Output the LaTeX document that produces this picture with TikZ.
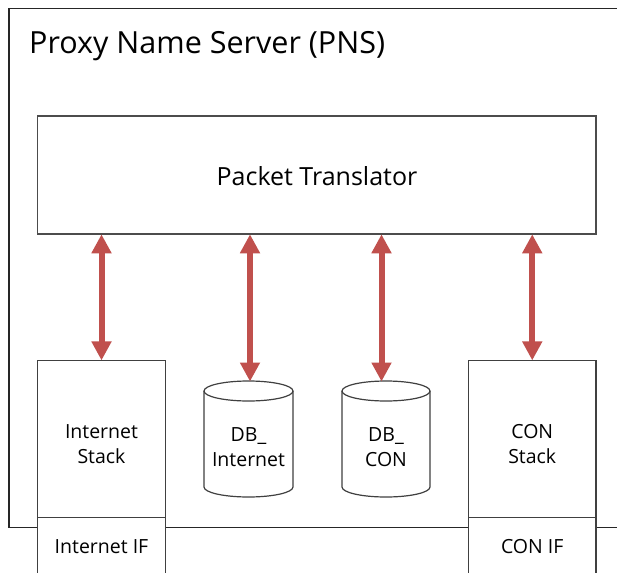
\documentclass[tikz,border=0pt]{standalone}
\usepackage{fontspec}
\setmainfont{Open Sans}
\usetikzlibrary{arrows.meta}
\definecolor{arrred}{RGB}{192,80,77}
\definecolor{boxline}{RGB}{64,64,64}
\tikzset{
  box/.style={draw=boxline, line width=1.2pt, fill=white, inner sep=0pt, minimum width=#1},
  lbl/.style={font=\fontsize{19.5}{25.5}\selectfont, align=center, inner sep=0pt},
  link/.style={draw=arrred, line width=6pt, {Triangle[width=19pt,length=19pt]}-{Triangle[width=19pt,length=19pt]}, shorten <=-0.5pt, shorten >=-0.5pt},
  dbshape/.style={draw=boxline, line width=1.2pt, fill=white}
}
\begin{document}
\begin{tikzpicture}[x=1pt,y=-1pt]
\path[use as bounding box, clip] (0,0) rectangle (617,572);
\fill[white] (0,0) rectangle (617,572);
% outer frame
\draw[line width=1.4pt, black!85] (9,8.5) rectangle (650,527.5);
\node[anchor=base west, inner sep=0pt, font=\fontsize{30.5}{36}\selectfont] (title) at (29,53.5) {Proxy Name Server (PNS)};
% packet translator
\node[box, minimum width=558.5pt, minimum height=118pt, draw=black!70, line width=1.6pt] (pt) at (316.75,175) {};
\node[anchor=base, inner sep=0pt, font=\fontsize{25}{30}\selectfont] (ptl) at (317,185) {Packet Translator};
% stacks
\node[box, minimum width=128pt, minimum height=157pt] (is) at (101.5,439) {};
\node[box, minimum width=128pt, minimum height=70pt] (iif) at (101.5,552.5) {};
\node[box, minimum width=127.5pt, minimum height=157pt] (cs) at (532.25,439) {};
\node[box, minimum width=127.5pt, minimum height=70pt] (cif) at (532.25,552.5) {};
\node[lbl] (isl) at (101.5,444) {Internet\\Stack};
\node[lbl, anchor=base] (iifl) at (101.5,553) {Internet IF};
\node[lbl] (csl) at (532.25,444) {CON\\Stack};
\node[lbl, anchor=base] (cifl) at (532.25,553) {CON IF};
% databases
\path[dbshape] (204,391) -- (204,487) arc[start angle=180, end angle=0, x radius=44.5, y radius=10] -- (293,391) arc[start angle=0, end angle=-180, x radius=44.5, y radius=10] -- cycle;
\draw[draw=boxline, line width=1.2pt] (204,391) arc[start angle=180, end angle=0, x radius=44.5, y radius=10];
\path[dbshape] (342,391) -- (342,487) arc[start angle=180, end angle=0, x radius=44, y radius=10] -- (430,391) arc[start angle=0, end angle=-180, x radius=44, y radius=10] -- cycle;
\draw[draw=boxline, line width=1.2pt] (342,391) arc[start angle=180, end angle=0, x radius=44, y radius=10];
\node[lbl] (db1) at (248.5,447) {DB\_\\Internet};
\node[lbl] (db2) at (386,447) {DB\_\\CON};
\coordinate (db1top) at (250,381);
\coordinate (db2top) at (381.5,381);
% links
\draw[link] (pt.south -| is.north) -- (is.north);
\draw[link] (pt.south -| db1top) -- (db1top);
\draw[link] (pt.south -| db2top) -- (db2top);
\draw[link] (pt.south -| cs.north) -- (cs.north);
\end{tikzpicture}
\end{document}
